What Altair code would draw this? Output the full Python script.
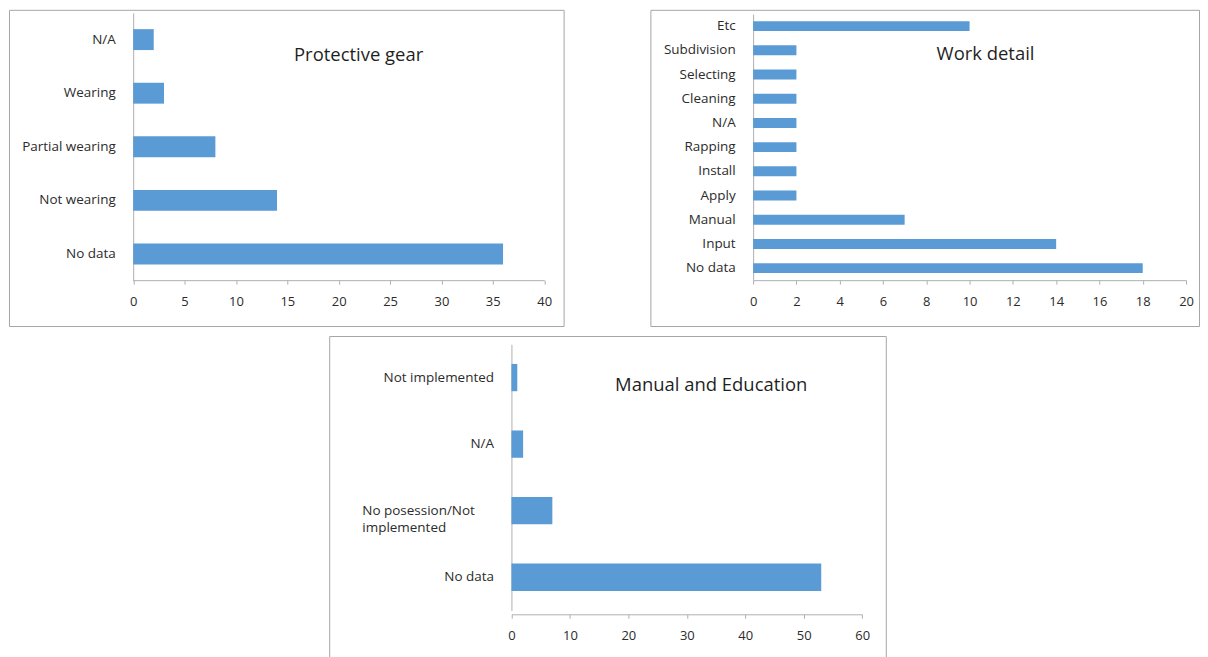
import altair as alt
import pandas as pd

# ---------------- data ----------------
gear_cats = ["N/A", "Wearing", "Partial wearing", "Not wearing", "No data"]
gear_vals = [2, 3, 8, 14, 36]
gear_ticks = [0, 5, 10, 15, 20, 25, 30, 35, 40]

work_cats = ["Etc", "Subdivision", "Selecting", "Cleaning", "N/A", "Rapping",
             "Install", "Apply", "Manual", "Input", "No data"]
work_vals = [10, 2, 2, 2, 2, 2, 2, 2, 7, 14, 18]
work_ticks = [0, 2, 4, 6, 8, 10, 12, 14, 16, 18, 20]

edu_cats = ["Not implemented", "N/A", "No posession/Not implemented", "No data"]
edu_vals = [1, 2, 7, 53]
edu_ticks = [0, 10, 20, 30, 40, 50, 60]

titles = ["Protective gear", "Work detail", "Manual and Education"]

# ---------------- style ----------------
BAR = "#5b9bd5"
AXIS = "#b0b0b0"
FRAME = "#a6a6a6"
FONT = "Open Sans"
TXT = "#2b2b2b"


def panel(cats, vals, ticks, title, width, height, xrange, yrange, pad_inner,
          title_xy, x_axis_y, yaxis_extra=None):
    df = pd.DataFrame({"category": cats, "value": vals})
    yaxis = dict(title=None, orient="left", offset=-xrange[0], ticks=False,
                 tickSize=0, labelPadding=18, domainColor=AXIS, grid=False)
    if yaxis_extra:
        yaxis.update(yaxis_extra)
    bars = alt.Chart(df).mark_bar(color=BAR).encode(
        x=alt.X("value:Q",
                scale=alt.Scale(domain=[ticks[0], ticks[-1]], range=list(xrange),
                                nice=False, zero=True),
                axis=alt.Axis(title=None, values=ticks, orient="bottom",
                              offset=x_axis_y - height, grid=False, tickSize=4,
                              tickColor=AXIS, domainColor=AXIS, labelFlush=False,
                              labelPadding=11, labelFontSize=13)),
        y=alt.Y("category:N", sort=cats,
                scale=alt.Scale(range=list(yrange), paddingInner=pad_inner,
                                paddingOuter=pad_inner / 2),
                axis=alt.Axis(**yaxis)),
    )
    txt = alt.Chart(pd.DataFrame({"t": [title]})).mark_text(
        font=FONT, fontSize=18.5, color="#1f1f1f", align="center", baseline="middle"
    ).encode(text="t:N", x=alt.value(title_xy[0]), y=alt.value(title_xy[1]))
    return alt.layer(bars, txt).properties(width=width, height=height)


p1 = panel(gear_cats, gear_vals, gear_ticks, titles[0], 556, 317,
           (124.5, 536.5), (3, 271.6), 0.61, (350.5, 45), 271)
p2 = panel(work_cats, work_vals, work_ticks, titles[1], 550, 317,
           (103, 537), (4.2, 271.1), 0.59, (336, 44), 271)

long_lab = "No posession/Not implemented"
p3 = panel(edu_cats, edu_vals, edu_ticks, titles[2], 558, 330,
           (182.7, 534.3), (8.3, 275.2), 0.59, (383, 49), 279,
           yaxis_extra=dict(
               labelExpr="datum.label == '" + long_lab + "' ? ['No posession/Not', 'implemented'] : datum.label",
               labelLineHeight=17,
               labelAlign={"condition": {"test": "datum.label == '" + long_lab + "'", "value": "left"},
                           "value": "right"},
               labelPadding={"condition": {"test": "datum.label == '" + long_lab + "'", "value": 150},
                             "value": 18},
           ))

spacer = alt.Chart(pd.DataFrame({"a": [""]})).mark_text().encode(
    text="a:N", x=alt.value(0), y=alt.value(0)
).properties(width=310, height=330, view=alt.ViewBackground(strokeOpacity=0))

top = alt.hconcat(p1, p2, spacing=85)
bottom = alt.hconcat(spacer, p3, spacing=10)

chart = alt.vconcat(top, bottom, spacing=3).properties(
    padding=0, background="white"
).configure_view(
    stroke=FRAME, strokeWidth=1
).configure_axis(
    labelFont=FONT, labelFontSize=13.5, labelColor=TXT, domainColor=AXIS,
    tickColor=AXIS, grid=False
)

chart.save("out.html", embed_options={"renderer": "svg", "actions": False})
